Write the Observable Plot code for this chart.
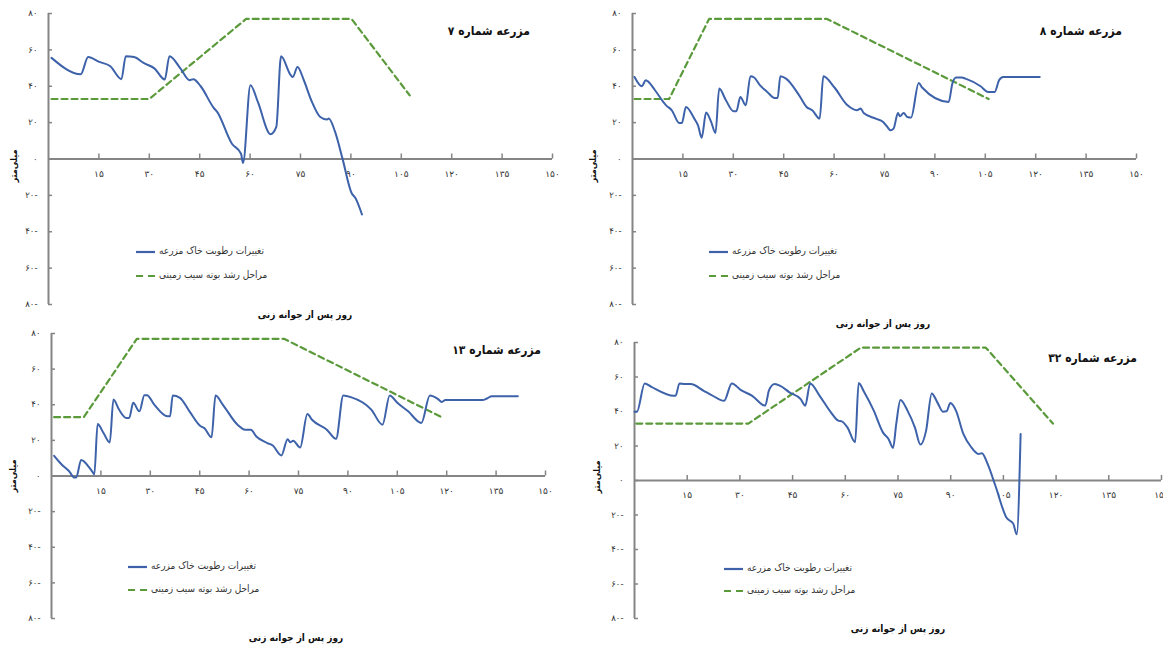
<!DOCTYPE html>
<html><head><meta charset="utf-8">
<script src="https://cdn.jsdelivr.net/npm/d3@7"></script>
<script src="https://cdn.jsdelivr.net/npm/@observablehq/plot@0.6"></script>
<style>
body{margin:0;background:#fff;}
#root{position:relative;width:1163px;height:647px;overflow:hidden;font-family:"DejaVu Sans Condensed","DejaVu Sans",sans-serif;background:#fff;}
.abs{position:absolute;white-space:nowrap;line-height:1;}
.title{font-weight:bold;font-size:12px;direction:rtl;text-align:right;color:#111;}
.xlab{font-weight:bold;font-size:10px;direction:rtl;text-align:center;color:#111;}
.ylab{font-weight:bold;font-size:9px;direction:rtl;color:#111;transform:translate(-50%,-50%) rotate(-90deg);}
.leg{font-size:10px;direction:rtl;color:#333;}
svg.plot{position:absolute;overflow:visible;}
</style></head><body><div id="root"></div>
<script>
// ---- data ----
const xTicks = [15, 30, 45, 60, 75, 90, 105, 120, 135, 150];
const yTicks = [-80, -60, -40, -20, 0, 20, 40, 60, 80];

const farm7Day   = [0.9,9.6,11.8,15.1,18.4,21.7,23,25.5,28.3,31.6,34.6,36,39.3,42,43.1,45.3,49.1,50.2,54.6,57.3,57.9,60.1,62.3,66.1,67.8,69.2,72.1,72.7,74.1,76,78.2,80.9,82.9,83.4,85.3,87.5,90.2,91.3,93.3];
const farm7Moist = [55.6,46.6,56.1,53.4,51,43.9,56.5,56.1,52.8,49.7,43.7,56.5,49.7,43.3,43.9,40,28.3,25.9,8.4,2.9,-2.2,40.6,31.4,13.6,17.6,56.5,46.1,45.1,50.6,43.3,32.3,23.1,21.7,22.2,14.9,0.2,-18.7,-21.3,-30.5];
const farm7StageDay = [0.9,30,58.8,90.2,107.5];
const farm7Stage    = [33,33,77,77,35];

const farm8Day   = [0.6,2.8,3.9,4.5,6.7,10,11.7,13.9,14.7,15.9,18.4,19.5,20.6,21.9,23.4,24.7,25.8,27.8,30.1,30.9,32.1,33.7,35.1,36.2,37.9,40.1,42.3,43.2,44,45.7,49.6,51.8,53.5,55.7,56.8,60.1,64,66.8,67.9,68.8,72.4,74.6,75.7,76.8,77.7,79,79.6,80.7,81.8,82.9,85.2,86.2,94.1,95.2,96.3,98,99.1,103.6,105.8,107.8,109.1,110.3,121.2];
const farm8Moist = [45.1,40,43.3,42.8,37.8,29.5,26.8,19.8,19.8,28.6,22.2,18.5,11.7,25.5,20.4,14.3,38.7,32.3,26.2,26.2,34.1,29.5,45.5,44.8,40.6,36.9,33.6,33.6,45.5,44.2,35,28.6,26.8,22.2,45.5,39.3,29.5,26.8,27.7,25.3,22.2,20.4,18,15.8,16.7,25.3,23.5,25.3,23.1,22.8,41.8,39.3,31.4,41.5,44.8,44.8,44.2,40,36.9,36.9,43.3,45.1,45.1];
const farm8StageDay = [0.6,10.9,22.8,57.9,106];
const farm8Stage    = [33,33,77,77,33];

const farm13Day   = [0.8,3,5.3,7,7.5,9,11.5,12.4,13,14,15.8,17.7,18.8,20.5,22.7,23.6,24.8,26.7,28.2,29,31.2,35.2,36,36.8,39,41.9,45.3,46.4,48.6,49.8,52,56.5,58.8,60.5,62.2,65.5,67.2,69.8,71.7,72.5,73.4,75.5,77.7,79.1,83.6,86.4,88.6,90.9,97.1,100.5,102.7,105,108.3,112.3,114.9,117.3,118.5,119.6,130.9,132.2,133.7,141.6];
const farm13Moist = [11.3,6.6,2.8,-0.9,-0.9,9,4.7,2.4,0.9,29.2,24.1,18.8,42.9,37.3,32.6,32.6,41.1,36.3,45.4,45.4,40.1,33.5,33.5,45.2,43.9,36.3,27.9,26.9,21.7,45.2,40.1,28.8,26,26,22.2,18.5,17.1,11.5,20.7,19,19.8,16,34.8,31.6,26,20.9,45.2,44.3,37.3,28.8,45.2,41.1,36.3,29.8,45.2,43.3,41.6,42.6,42.6,43.5,44.8,44.8];
const farm13StageDay = [0.8,9.8,25.9,70.6,118.5];
const farm13Stage    = [33,33,77,77,33];

const farm32Day   = [0,0.7,2.9,4.8,11.2,11.7,12.8,14.4,16,19.7,21.8,25.5,27.7,30.3,33.5,37.2,38.3,39.9,41.5,44.1,47.3,48.6,50,52.7,55.9,58,59,60.6,62.8,63.8,65.4,68.1,70.7,72.3,73.6,74.5,75.7,77.7,79.8,81.4,83,84.6,86.2,87.8,88.8,89.9,91.5,93.6,95.7,97.9,98.9,100.5,102.7,105.9,107.8,108.8,109.9];
const farm32Moist = [39.9,39.9,56.3,54.3,49.1,49.1,56.3,55.9,55.9,52,49.7,46.2,56.3,52.4,49.1,43.4,52.4,55.9,54.9,51.1,47.2,43.4,56.3,49.1,39.5,34.7,34.3,30.8,22.2,56.5,51.1,40.5,27.9,24.1,18.9,32.8,46.6,40.5,30.8,20.8,28.9,50.5,45.3,39.9,40.1,44.9,40.5,27,19.7,15.4,15.8,9.6,-2.9,-21.6,-25,-31.2,27];
const farm32StageDay = [0.5,32.4,64.4,100,119.1];
const farm32Stage    = [33,33,77,77,33];

const farmNames = ["مزرعه شماره ۷", "مزرعه شماره ۸", "مزرعه شماره ۱۳", "مزرعه شماره ۳۲"];
const legendLabels = ["تغییرات رطوبت خاک مزرعه", "مراحل رشد بوته سیب زمینی"];
const xAxisLabel = "روز پس از جوانه زنی";
const yAxisLabel = "میلی‌متر";

// ---- helpers ----
const faDigits = "۰۱۲۳۴۵۶۷۸۹";
const fa = n => String(Math.abs(n)).replace(/\d/g, d => faDigits[d]) + (n < 0 ? "-" : "");
const zip = (xs, ys) => xs.map((x, i) => ({day: x, v: ys[i]}));

const BLUE = "#3d62aa", GREEN = "#5b9a3b", AXIS = "#858585";

// layout of each panel (pixels)
const panels = [
  {name: farmNames[0], moist: zip(farm7Day, farm7Moist), stage: zip(farm7StageDay, farm7Stage),
   left: 0, top: 0, w: 580, h: 320, ml: 48, mr: 28, mt: 13, mb: 16,
   title: [380, 25, 150], leg: [136, 252, 276], xlab: [305, 316], ylab: [14, 166]},
  {name: farmNames[1], moist: zip(farm8Day, farm8Moist), stage: zip(farm8StageDay, farm8Stage),
   left: 580, top: 0, w: 583, h: 320, ml: 52, mr: 27, mt: 13, mb: 16,
   title: [972, 25, 150], leg: [709, 252, 276], xlab: [883, 325], ylab: [593, 166]},
  {name: farmNames[2], moist: zip(farm13Day, farm13Moist), stage: zip(farm13StageDay, farm13Stage),
   left: 0, top: 320, w: 580, h: 327, ml: 51, mr: 35, mt: 13, mb: 29,
   title: [391, 344, 150], leg: [128, 567, 590], xlab: [296, 639], ylab: [13, 476]},
  {name: farmNames[3], moist: zip(farm32Day, farm32Moist), stage: zip(farm32StageDay, farm32Stage),
   left: 580, top: 330, w: 583, h: 317, ml: 54, mr: 2, mt: 12, mb: 29,
   title: [987, 352, 150], leg: [724, 569, 591], xlab: [898, 630], ylab: [597, 477]}
];

const root = document.getElementById("root");
function addDiv(cls, text, style) {
  const d = document.createElement("div");
  d.className = "abs " + cls;
  d.textContent = text;
  Object.assign(d.style, style);
  root.appendChild(d);
  return d;
}
function swatch(x, y, color, dash) {
  const ns = "http://www.w3.org/2000/svg";
  const s = document.createElementNS(ns, "svg");
  s.setAttribute("width", 20); s.setAttribute("height", 6);
  s.style.position = "absolute"; s.style.left = x + "px"; s.style.top = (y - 3) + "px";
  const l = document.createElementNS(ns, "line");
  l.setAttribute("x1", 0); l.setAttribute("x2", 19); l.setAttribute("y1", 3); l.setAttribute("y2", 3);
  l.setAttribute("stroke", color); l.setAttribute("stroke-width", 2.2);
  if (dash) l.setAttribute("stroke-dasharray", "7,5");
  s.appendChild(l);
  root.appendChild(s);
}

for (const p of panels) {
  const chart = Plot.plot({
    width: p.w, height: p.h,
    marginLeft: p.ml, marginRight: p.mr, marginTop: p.mt, marginBottom: p.mb,
    x: {domain: [0, 150], axis: null},
    y: {domain: [-80, 80], axis: null},
    style: {fontFamily: "DejaVu Sans, sans-serif", background: "transparent", overflow: "visible"},
    marks: [
      // axes
      Plot.ruleY([0], {stroke: AXIS, strokeWidth: 2}),
      Plot.ruleX([0], {y1: -80, y2: 80, stroke: AXIS, strokeWidth: 2}),
      Plot.ruleX(xTicks, {x: d => d, y1: 0, y2: 0, insetTop: -5, stroke: AXIS, strokeWidth: 1.5}),
      Plot.ruleY(yTicks, {y: d => d, x1: 0, x2: 0, insetRight: -4, stroke: AXIS, strokeWidth: 1.5}),
      Plot.text(xTicks, {x: d => d, y: 0, dy: 15, text: d => fa(d), fontSize: 9, fill: "#333"}),
      Plot.text(yTicks, {x: 0, y: d => d, dx: -11, text: d => fa(d), textAnchor: "end", fontSize: 8.5, fill: "#333"}),
      // series
      Plot.line(p.stage, {x: "day", y: "v", stroke: GREEN, strokeWidth: 2.2, strokeDasharray: "6,4"}),
      Plot.line(p.moist, {x: "day", y: "v", stroke: BLUE, strokeWidth: 2, curve: "monotone-x"})
    ]
  });
  chart.classList.add("plot");
  chart.style.left = p.left + "px";
  chart.style.top = p.top + "px";
  root.appendChild(chart);

  addDiv("title", p.name, {left: p.title[0] + "px", top: p.title[1] + "px", width: p.title[2] + "px"});
  swatch(p.leg[0], p.leg[1], BLUE, false);
  swatch(p.leg[0], p.leg[2], GREEN, true);
  addDiv("leg", legendLabels[0], {left: (p.leg[0] + 23) + "px", top: (p.leg[1] - 6) + "px"});
  addDiv("leg", legendLabels[1], {left: (p.leg[0] + 23) + "px", top: (p.leg[2] - 6) + "px"});
  addDiv("xlab", xAxisLabel, {left: (p.xlab[0] - 75) + "px", top: (p.xlab[1] - 6) + "px", width: "150px"});
  addDiv("ylab", yAxisLabel, {left: p.ylab[0] + "px", top: p.ylab[1] + "px"});
}
</script></body></html>
